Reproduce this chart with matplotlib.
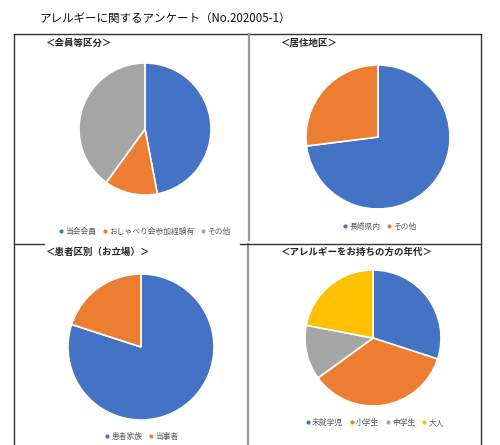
import matplotlib.pyplot as plt
from matplotlib.lines import Line2D

plt.rcParams['font.family'] = ['Noto Sans CJK JP', 'DejaVu Sans']

W, H = 500, 445

# data
title = 'アレルギーに関するアンケート（No.202005-1）'

member_labels = ['当会会員', 'おしゃべり会参加経験有', 'その他']
member_vals = [47, 13, 40]

area_labels = ['長崎県内', 'その他']
area_vals = [73, 27]

patient_labels = ['患者家族', '当事者']
patient_vals = [80, 20]

age_labels = ['未就学児', '小学生', '中学生', '大人']
age_vals = [30, 35, 13, 22]

colors = ['#4472C4', '#ED7D31', '#A5A5A5', '#FFC000']


def fx(px):
    return px / W


def fy(py):
    return 1 - py / H


fig = plt.figure(figsize=(W / 100, H / 100), dpi=100)
fig.patch.set_facecolor('white')

fig.text(fx(40), fy(18), title, fontsize=8.3, va='center', ha='left', color='#111111')

# frame lines
def line(x0, y0, x1, y1, c='#333333', lw=1.0):
    fig.add_artist(Line2D([fx(x0), fx(x1)], [fy(y0), fy(y1)], color=c, lw=lw))

line(14, 33.5, 481, 33.5)
line(14, 33.5, 14, 445)
line(481, 33.5, 481, 445)
line(248.5, 33.5, 248.5, 240, c='#999999', lw=1.6)
line(247.5, 244, 247.5, 445, c='#999999', lw=1.6)
line(14, 243.5, 44, 243.5)
line(240, 243.5, 481, 243.5)

panels = [
    ('＜会員等区分＞', (45, 43), member_labels, member_vals, (145, 129), 66, (145, 232)),
    ('＜居住地区＞', (280, 43), area_labels, area_vals, (378, 137), 72, (380, 227)),
    ('＜患者区別（お立場）＞', (45, 252), patient_labels, patient_vals, (141, 347), 73, (142, 437)),
    ('＜アレルギーをお持ちの方の年代＞', (280, 252), age_labels, age_vals, (373, 338), 68, (375, 423)),
]

for name, tpos, labels, vals, c, r, lpos in panels:
    fig.text(fx(tpos[0]), fy(tpos[1]), name, fontsize=6.8, fontweight='bold',
             va='center', ha='left', color='#222222')
    ax = fig.add_axes([fx(c[0] - r), fy(c[1] + r), 2 * r / W, 2 * r / H])
    ax.pie(vals, colors=colors[:len(vals)], startangle=90, counterclock=False,
           wedgeprops=dict(edgecolor='white', linewidth=1.2))
    ax.set_xlim(-1, 1)
    ax.set_ylim(-1, 1)
    ax.set_aspect('equal')
    ax.axis('off')
    handles = [Line2D([], [], marker='o', ls='', markersize=2.0, color=colors[i])
               for i in range(len(labels))]
    fig.legend(handles, labels, loc='center', bbox_to_anchor=(fx(lpos[0]), fy(lpos[1])),
               ncol=len(labels), frameon=False, fontsize=5.6, handlelength=0.5,
               handletextpad=0.25, columnspacing=0.9, labelcolor='#595959')

fig.savefig('out.png', dpi=100)
